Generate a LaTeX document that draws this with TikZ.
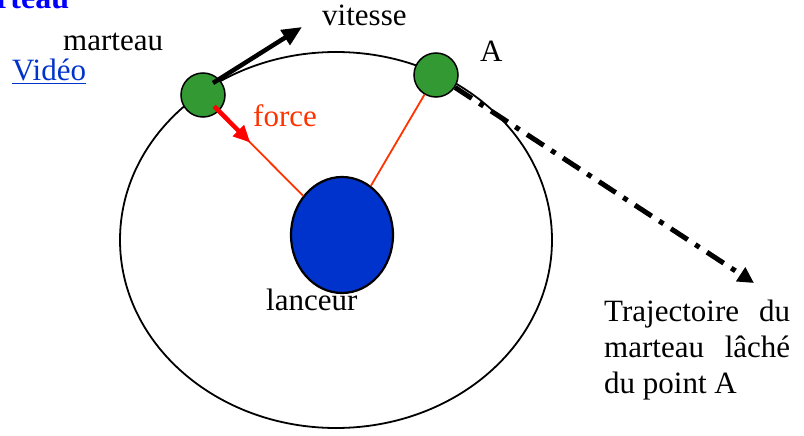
\documentclass[tikz,border=0pt]{standalone}
\usepackage{fontspec}
\setmainfont{Liberation Serif}
\usepackage{xcolor}
\usetikzlibrary{arrows.meta,shapes.geometric,calc}
\definecolor{ballgreen}{HTML}{339933}
\definecolor{throwblue}{HTML}{0033CC}
\definecolor{pullred}{HTML}{FF3300}
\definecolor{linkblue}{HTML}{0033CC}

\begin{document}
\begin{tikzpicture}[
  x=1pt, y=-1pt,
  lbl/.style  ={font=\fontsize{31}{36}\selectfont, inner sep=0pt, anchor=base west},
  ball/.style ={circle, draw=black, line width=1.5pt, fill=ballgreen,
                minimum size=44pt, inner sep=0pt},
  thrower/.style ={ellipse, draw=black, line width=2.2pt, fill=throwblue,
                minimum width=102pt, minimum height=116pt, inner sep=0pt},
  orbit/.style ={ellipse, draw=black, line width=1.8pt,
                minimum width=432pt, minimum height=376pt, inner sep=0pt},
  cable/.style ={pullred, line width=1.8pt},
  speed/.style ={-{Triangle[length=20pt,width=17pt]}, line width=4.5pt, black},
  pull/.style  ={-{Triangle[length=17pt,width=15pt]}, line width=4.5pt, red},
  escape/.style ={-{Triangle[length=16pt,width=16pt]}, line width=5pt, black,
                dash pattern=on 20pt off 9pt on 5pt off 9pt},
]
\useasboundingbox (0,0) rectangle (804,436);
\clip (0,0) rectangle (804,436);

% ---------------- circle of the throw ----------------
\node[orbit]   (orbite)  at (336,240) {};
\node[thrower] (lanceur) at (342,235) {};

% ---------------- the two positions of the hammer ----------------
\node[ball] (ball1) at (203,95) {};
\node[ball] (ballA) at (436,75) {};

\draw[cable] (ball1) -- (lanceur);
\draw[cable] (ballA) -- (lanceur);

\coordinate (vtip) at (302,27);
\coordinate (ftip) at ($(ball1.center)!0.34!(lanceur.center)$);
\coordinate (ttip) at (754,283);

\draw[speed]  ([shift={(10,-12)}]ball1.center) -- (vtip);
\draw[pull]   ($(ball1.center)!0.08!(lanceur.center)$) -- (ftip);
\draw[escape] (ballA) -- (ttip);

% ---------------- labels ----------------
\node[lbl, font=\fontsize{32}{36}\selectfont\bfseries, text=blue] (titre) at (-4,9) {rteau};
\node[lbl] (vitesse) at (322,26) {vitesse};
\node[lbl] (marteau) at (63,51) {marteau};
\node[lbl, text=linkblue] (video) at (12,81) {\underline{Vidéo}};
\node[lbl, text=pullred] (force) at (253,127) {force};
\node[lbl] (pointA) at (480,62) {A};
\node[lbl] (lanceurlbl) at (266,310) {lanceur};
\node[lbl, align=left] (traj) at (604,393)
  {\hbox to 186pt{Trajectoire\hfill du}\\
   \hbox to 186pt{marteau\hfill lâché}\\
   du point A};

\end{tikzpicture}
\end{document}
